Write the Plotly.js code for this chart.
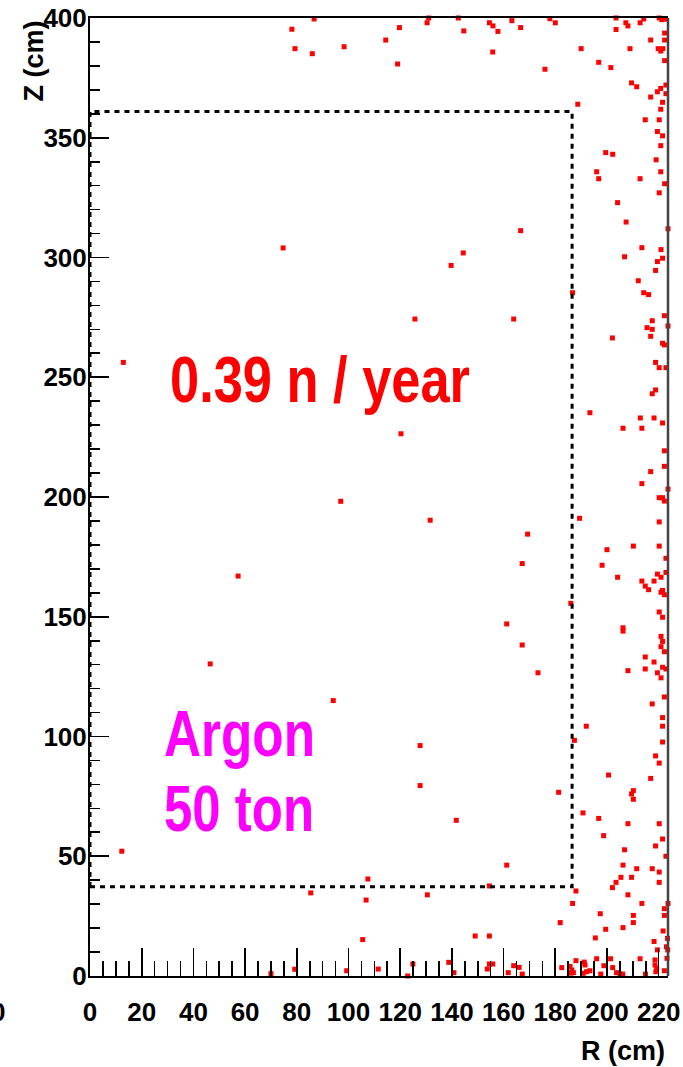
<!DOCTYPE html>
<html>
<head>
<meta charset="utf-8">
<script src="https://cdn.plot.ly/plotly-3.0.1.min.js"></script>
<style>html,body{margin:0;padding:0;background:#fff;}#chart{width:683px;height:1067px;}</style>
</head>
<body>
<div id="chart"></div>
<script>
// Neutron capture positions: R (cm) and Z (cm)
var R_cm = [
 78.1,86.7,79.3,86.0,98.3,114.4,119.7,119.0,131.0,130.4,142.5,144.6,154.5,155.9,157.8,155.8,163.2,166.6,177.9,180.0,
 176.0,190.0,188.7,196.8,201.5,203.5,203.5,207.3,208.1,208.9,212.8,214.2,220.2,221.2,222.3,216.9,222.3,222.3,219.8,220.8,
 221.6,222.3,209.5,211.5,216.9,219.5,220.8,222.8,222.8,221.5,220.8,214.8,220.2,219.5,221.5,220.8,199.5,202.2,219.0,196.0,
 196.8,212.8,220.8,222.3,220.2,
 204.1,207.4,166.6,223.6,213.5,220.9,206.8,221.5,219.5,218.8,212.1,186.7,214.2,216.1,163.9,222.2,217.5,223.6,215.5,217.5,
 216.9,202.1,221.5,222.2,218.8,220.2,222.8,218.8,217.5,193.4,212.9,218.2,221.5,206.2,213.5,
 222.2,222.2,216.9,213.5,223.6,220.2,221.5,222.2,189.4,169.3,220.2,200.0,210.2,220.2,167.2,198.1,222.8,204.1,219.5,220.9,
 222.8,213.5,218.2,214.8,216.1,220.9,221.5,222.2,186.0,220.2,221.5,161.2,206.2,206.2,220.9,221.5,220.9,222.2,167.2,214.8,
 218.2,173.3,208.1,214.8,219.5,221.5,222.8,220.9,
 222.2,217.5,221.5,221.5,192.0,187.4,221.5,218.8,220.2,200.6,216.9,181.3,210.2,209.5,210.2,190.7,196.8,208.1,220.2,198.7,
 221.5,218.8,206.8,222.8,161.2,206.2,211.5,217.5,220.2,205.4,209.5,203.5,220.2,202.1,188.0,208.1,186.7,213.5,223.6,222.2,
 197.4,210.2,222.2,
 210.2,181.9,199.5,206.2,221.7,223.4,195.5,218.2,223.0,223.5,223.9,219.5,223.2,212.8,218.6,218.6,219.2,218.9,222.2,182.5,
 185.7,186.4,186.0,187.0,188.0,191.2,191.5,196.0,201.4,198.8,202.2,192.1,193.4,190.8,197.6,203.7,205.0,206.1,214.9,
 105.5,149.0,154.5,99.3,111.5,122.9,124.9,138.8,140.8,153.7,154.5,155.8,161.8,163.9,166.0,167.2,
 85.4,70.0,79.2,130.5,106.8,
 12.9,74.7,139.7,144.4,125.7,120.3,97.0,131.6,57.3,46.5,94.1,127.7,127.7,141.7,12.3,107.5,154.5
];
var Z_cm = [
 395.3,399.6,387.2,385.1,388.0,390.8,396.0,380.8,400.0,398.0,400.0,394.6,398.0,396.7,394.4,385.8,398.9,396.0,399.7,398.0,
 378.6,387.2,364.0,381.5,379.3,400.0,395.2,398.0,396.7,387.2,398.0,399.6,400.0,399.3,399.5,390.8,393.7,390.8,387.2,386.2,
 387.2,382.2,372.9,371.3,367.0,369.2,370.6,372.0,368.4,364.8,361.9,357.5,357.5,352.6,350.8,346.7,343.8,343.1,340.8,335.8,
 332.9,332.9,335.8,330.8,327.0,
 322.9,314.8,311.2,312.0,304.1,303.3,300.3,299.7,298.3,294.6,290.3,285.3,285.3,284.5,274.3,275.7,273.6,271.4,270.7,270.0,
 267.1,266.4,264.2,263.5,256.2,254.0,254.0,244.7,243.1,235.2,233.0,233.0,230.9,228.7,228.7,
 219.3,212.8,210.6,205.6,203.3,199.7,199.7,198.3,191.1,184.5,189.6,178.0,179.5,179.5,172.2,171.5,174.4,166.5,167.8,166.5,
 168.5,164.9,164.9,162.8,161.3,160.2,161.0,159.2,155.6,152.0,149.8,147.0,145.4,144.0,141.8,139.7,137.5,135.4,138.2,133.2,
 131.1,126.6,127.5,128.2,126.6,128.9,128.2,124.5,
 116.5,113.6,107.9,104.3,104.3,98.4,97.7,91.9,88.9,83.9,82.5,76.7,77.4,76.0,73.8,68.1,65.8,63.6,63.6,58.6,
 57.2,54.3,52.7,50.0,46.3,46.3,44.8,44.8,43.4,41.2,41.2,39.1,39.1,36.9,35.5,33.9,30.3,30.3,30.3,28.1,
 26.0,25.3,25.3,
 22.3,22.3,19.5,20.2,18.8,15.7,15.9,14.4,12.2,10.9,9.5,10.9,7.4,7.2,6.7,4.6,3.2,1.8,2.2,3.5,
 4.0,2.5,1.2,1.4,6.4,5.8,4.6,7.2,7.2,4.3,3.5,1.8,2.2,1.1,0.8,1.4,0.8,0.8,0.8,
 15.2,16.7,16.7,2.2,2.9,0.0,5.0,5.7,1.4,2.9,5.0,5.0,1.4,4.3,3.6,0.8,
 34.7,1.0,2.8,33.9,31.7,
 256.2,304.0,296.7,301.9,274.3,226.4,198.2,190.3,167.0,130.3,115.0,96.2,79.5,65.0,52.1,40.5,37.6
];
// Fiducial volume boundary (cm)
var fiducialR = [0, 186.5];
var fiducialZ = [37.3, 361];
var xTickVals = [0,20,40,60,80,100,120,140,160,180,200,220];
var yTickVals = [0,50,100,150,200,250,300,350,400];
var rateLabel = "0.39 n / year";
var targetLabel = ["Argon", "50 ton"];

var FONT = "Liberation Sans, Arial, Helvetica, sans-serif";

var trace = {
  type: "scatter", mode: "markers", x: R_cm, y: Z_cm,
  marker: {symbol: "square", size: 5, color: "#ff0000", line: {width: 0}},
  cliponaxis: false, hoverinfo: "x+y"
};

var layout = {
  width: 683, height: 1067,
  margin: {l: 90, r: 15, t: 18, b: 91, pad: 0},
  paper_bgcolor: "#ffffff", plot_bgcolor: "#ffffff",
  showlegend: false,
  font: {family: FONT, size: 26, color: "#000", weight: "bold"},
  xaxis: {
    range: [0, 223.6], showgrid: false, zeroline: false,
    showline: true, linecolor: "#000", linewidth: 2, mirror: true,
    ticks: "inside", ticklen: 28, tickwidth: 1.6, tickcolor: "#000",
    tickmode: "array", tickvals: xTickVals, ticktext: xTickVals.map(String),
    ticklabelstandoff: 12,
    tickfont: {family: FONT, size: 26, color: "#000", weight: "bold"},
    minor: {dtick: 5, tick0: 0, ticks: "inside", ticklen: 15, tickwidth: 1.6, tickcolor: "#000", showgrid: false}
  },
  yaxis: {
    range: [0, 400], showgrid: false, zeroline: false,
    showline: true, linecolor: "#000", linewidth: 2, mirror: false,
    ticks: "inside", ticklen: 19, tickwidth: 1.6, tickcolor: "#000",
    tickmode: "array", tickvals: yTickVals, ticktext: yTickVals.map(String),
    ticklabelstandoff: -4,
    tickfont: {family: FONT, size: 26, color: "#000", weight: "bold"},
    minor: {dtick: 10, tick0: 0, ticks: "inside", ticklen: 10, tickwidth: 1.6, tickcolor: "#000", showgrid: false}
  },
  shapes: [
    {type: "rect", xref: "x", yref: "y", x0: fiducialR[0], x1: fiducialR[1], y0: fiducialZ[0], y1: fiducialZ[1],
     line: {color: "#000", width: 3, dash: "5px,5px"}, fillcolor: "rgba(0,0,0,0)", layer: "above"},
    {type: "line", xref: "paper", yref: "paper", x0: 1, x1: 1, y0: 0, y1: 1,
     line: {color: "#444", width: 2.5}, layer: "above"}
  ],
  annotations: [
    {text: rateLabel, xref: "x", yref: "y", x: 30.2, y: 249, xanchor: "left", yanchor: "middle", showarrow: false,
     font: {family: FONT, size: 65, color: "#ff0000", weight: "bold"}},
    {text: targetLabel[0], xref: "x", yref: "y", x: 27.9, y: 101.3, xanchor: "left", yanchor: "middle", showarrow: false,
     font: {family: FONT, size: 65, color: "#ff00ff", weight: "bold"}},
    {text: targetLabel[1], xref: "x", yref: "y", x: 27.9, y: 69.9, xanchor: "left", yanchor: "middle", showarrow: false,
     font: {family: FONT, size: 65, color: "#ff00ff", weight: "bold"}},
    {text: "R (cm)", xref: "paper", yref: "paper", x: 0.9983, y: -0.078, xanchor: "right", yanchor: "middle", showarrow: false,
     font: {family: FONT, size: 27, color: "#000", weight: "bold"}},
    {text: "Z (cm)", xref: "paper", yref: "paper", x: -0.0969, y: 1.0, xanchor: "center", yanchor: "top", textangle: -90, showarrow: false,
     font: {family: FONT, size: 27, color: "#000", weight: "bold"}},
    {text: "0", xref: "paper", yref: "paper", x: -0.1436, y: -0.0376, xanchor: "right", yanchor: "middle", showarrow: false,
     font: {family: FONT, size: 26, color: "#000", weight: "bold"}}
  ]
};

// condensed look of the big labels (the reference uses a narrow bold face)
var narrowScale = {};
narrowScale[rateLabel] = 0.806;
narrowScale[targetLabel[0]] = 0.789;
narrowScale[targetLabel[1]] = 0.784;

Plotly.newPlot("chart", [trace], layout, {staticPlot: true, displayModeBar: false}).then(function () {
  document.querySelectorAll("#chart text.annotation-text").forEach(function (t) {
    var s = narrowScale[t.textContent];
    if (s) {
      t.style.transformBox = "fill-box";
      t.style.transformOrigin = "0% 50%";
      t.style.transform = "scaleX(" + s + ")";
    }
  });
});
</script>
</body>
</html>
